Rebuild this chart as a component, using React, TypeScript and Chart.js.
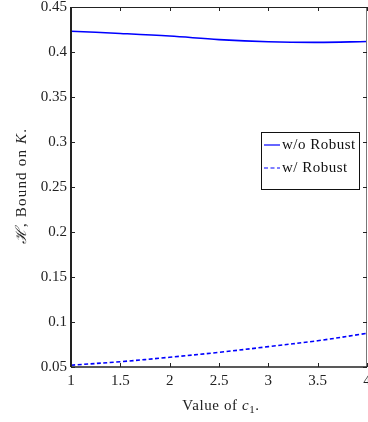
import React, { useEffect, useRef } from 'react';
import { Chart, registerables } from 'chart.js';

Chart.register(...registerables);

// ---- data ----
const cValues = [1, 1.5, 2, 2.5, 3, 3.5, 4];
const woRobust = [0.4231, 0.4206, 0.4177, 0.4138, 0.4114, 0.4107, 0.4116];
const wRobust = [0.052, 0.0559, 0.0608, 0.0663, 0.0726, 0.0792, 0.0874];
const seriesLabels = ['w/o Robust', 'w/ Robust'];
const xTicks = [1, 1.5, 2, 2.5, 3, 3.5, 4];
const xTickLabels = ['1', '1.5', '2', '2.5', '3', '3.5', '4'];
const yTicks = [0.05, 0.1, 0.15, 0.2, 0.25, 0.3, 0.35, 0.4, 0.45];
const yTickLabels = ['0.05', '0.1', '0.15', '0.2', '0.25', '0.3', '0.35', '0.4', '0.45'];

const SERIF = "'Liberation Serif', 'DejaVu Serif', serif";
const BLUE = '#0000ff';

const framePlugin = {
  id: 'frame',
  beforeDraw(chart: any) {
    const { ctx, width, height } = chart;
    ctx.save();
    ctx.fillStyle = '#ffffff';
    ctx.fillRect(0, 0, width, height);
    ctx.restore();
  },
  afterDraw(chart: any) {
    const { ctx, chartArea: a, scales } = chart;
    ctx.save();
    // box
    ctx.strokeStyle = '#222';
    ctx.lineWidth = 1;
    ctx.beginPath();
    ctx.moveTo(a.left, a.top + 0.5);
    ctx.lineTo(a.right, a.top + 0.5);
    ctx.stroke();
    ctx.strokeStyle = '#777';
    ctx.beginPath();
    ctx.moveTo(a.right - 0.5, a.top);
    ctx.lineTo(a.right - 0.5, a.bottom);
    ctx.stroke();
    ctx.strokeStyle = '#222';
    ctx.lineWidth = 2;
    ctx.beginPath();
    ctx.moveTo(a.left, a.top);
    ctx.lineTo(a.left, a.bottom);
    ctx.stroke();
    ctx.lineWidth = 1.5;
    ctx.beginPath();
    ctx.moveTo(a.left, a.bottom);
    ctx.lineTo(a.right, a.bottom);
    ctx.stroke();
    // inward ticks
    const tl = 4;
    ctx.lineWidth = 1;
    ctx.strokeStyle = '#222';
    xTicks.forEach((v) => {
      const x = Math.round(scales.x.getPixelForValue(v)) + 0.5;
      ctx.beginPath();
      ctx.moveTo(x, a.bottom);
      ctx.lineTo(x, a.bottom - tl);
      ctx.moveTo(x, a.top);
      ctx.lineTo(x, a.top + tl);
      ctx.stroke();
    });
    yTicks.forEach((v) => {
      const y = Math.round(scales.y.getPixelForValue(v)) + 0.5;
      ctx.beginPath();
      ctx.moveTo(a.left, y);
      ctx.lineTo(a.left + tl, y);
      ctx.moveTo(a.right, y);
      ctx.lineTo(a.right - tl, y);
      ctx.stroke();
    });

    // legend
    const lx = a.right - 106;
    const ly = a.top + 125;
    const lw = 98;
    const lh = 57;
    ctx.fillStyle = '#fff';
    ctx.fillRect(lx, ly, lw, lh);
    ctx.strokeStyle = '#111';
    ctx.lineWidth = 1;
    ctx.strokeRect(lx + 0.5, ly + 0.5, lw, lh);
    ctx.font = `15px ${SERIF}`;
    (ctx as any).letterSpacing = '0.5px';
    ctx.textBaseline = 'middle';
    ctx.textAlign = 'left';
    chart.data.datasets.forEach((ds: any, i: number) => {
      const yy = ly + 13 + i * 23;
      ctx.strokeStyle = ds.borderColor;
      ctx.lineWidth = 1.2;
      ctx.setLineDash(ds.borderDash || []);
      ctx.beginPath();
      ctx.moveTo(lx + 3, yy);
      ctx.lineTo(lx + 19, yy);
      ctx.stroke();
      ctx.setLineDash([]);
      ctx.fillStyle = '#111';
      ctx.fillText(ds.label, lx + 21, yy);
    });

    // x title
    (ctx as any).letterSpacing = '0.6px';
    ctx.fillStyle = '#222';
    ctx.textBaseline = 'alphabetic';
    const parts = [
      { t: 'Value of ', f: `15px ${SERIF}`, dy: 0 },
      { t: 'c', f: `italic 15px ${SERIF}`, dy: 0 },
      { t: '1', f: `11px ${SERIF}`, dy: 3 },
      { t: '.', f: `15px ${SERIF}`, dy: 0 },
    ];
    let total = 0;
    parts.forEach((p) => {
      ctx.font = p.f;
      total += ctx.measureText(p.t).width;
    });
    let px = (a.left + a.right) / 2 + 2 - total / 2;
    const by = 410;
    parts.forEach((p) => {
      ctx.font = p.f;
      ctx.fillText(p.t, px, by + p.dy);
      px += ctx.measureText(p.t).width;
    });

    // y title
    ctx.save();
    ctx.translate(26, (a.top + a.bottom) / 2 - 1);
    ctx.rotate(-Math.PI / 2);
    const yparts = [
      { t: 'ℋ', f: `italic 15px ${SERIF}` },
      { t: ', Bound on ', f: `15px ${SERIF}` },
      { t: 'K', f: `italic 15px ${SERIF}` },
      { t: '.', f: `15px ${SERIF}` },
    ];
    (ctx as any).letterSpacing = '1.2px';
    let ytot = 0;
    yparts.forEach((p) => {
      ctx.font = p.f;
      ytot += ctx.measureText(p.t).width;
    });
    let qx = -ytot / 2;
    yparts.forEach((p) => {
      ctx.font = p.f;
      ctx.fillText(p.t, qx, 0);
      qx += ctx.measureText(p.t).width;
    });
    ctx.restore();
    ctx.restore();
  },
};

export default function App() {
  const ref = useRef<HTMLCanvasElement | null>(null);
  useEffect(() => {
    if (!ref.current) return;
    const chart = new Chart(ref.current, {
      type: 'line',
      data: {
        datasets: [
          {
            label: seriesLabels[0],
            data: cValues.map((c, i) => ({ x: c, y: woRobust[i] })),
            borderColor: BLUE,
            borderWidth: 1.6,
            pointRadius: 0,
            tension: 0.35,
            fill: false,
          },
          {
            label: seriesLabels[1],
            data: cValues.map((c, i) => ({ x: c, y: wRobust[i] })),
            borderColor: BLUE,
            borderWidth: 1.6,
            borderDash: [4, 2.5],
            pointRadius: 0,
            tension: 0.35,
            fill: false,
          },
        ],
      },
      options: {
        animation: false,
        responsive: false,
        maintainAspectRatio: false,
        layout: { padding: { top: 7, right: 1, left: 0, bottom: 0 } },
        plugins: {
          legend: { display: false },
          tooltip: { enabled: false },
          title: { display: false },
        },
        scales: {
          x: {
            type: 'linear',
            min: 1,
            max: 4,
            grid: { display: false, drawTicks: false },
            border: { display: false },
            afterBuildTicks: (s: any) => {
              s.ticks = xTicks.map((v) => ({ value: v }));
            },
            afterFit: (s: any) => {
              s.height = 55;
              s.paddingLeft = 0;
              s.paddingRight = 0;
            },
            ticks: {
              autoSkip: false,
              maxRotation: 0,
              padding: 5,
              color: '#222',
              font: { family: SERIF, size: 15 },
              callback: (v: any) => {
                const i = xTicks.indexOf(Number(v));
                return i >= 0 ? xTickLabels[i] : '';
              },
            },
          },
          y: {
            type: 'linear',
            min: 0.05,
            max: 0.45,
            grid: { display: false, drawTicks: false },
            border: { display: false },
            afterBuildTicks: (s: any) => {
              s.ticks = yTicks.map((v) => ({ value: v }));
            },
            afterFit: (s: any) => {
              s.width = 71;
              s.paddingTop = 0;
              s.paddingBottom = 0;
            },
            ticks: {
              autoSkip: false,
              padding: 4,
              color: '#222',
              font: { family: SERIF, size: 15 },
              callback: (v: any) => {
                const i = yTicks.findIndex((t) => Math.abs(t - Number(v)) < 1e-9);
                return i >= 0 ? yTickLabels[i] : '';
              },
            },
          },
        },
      },
      plugins: [framePlugin],
    } as any);
    return () => chart.destroy();
  }, []);
  return (
    <div style={{ position: 'fixed', left: 0, top: 0, width: 368, height: 422, background: '#fff' }}>
      <canvas ref={ref} width={368} height={422} style={{ display: 'block' }} />
    </div>
  );
}
